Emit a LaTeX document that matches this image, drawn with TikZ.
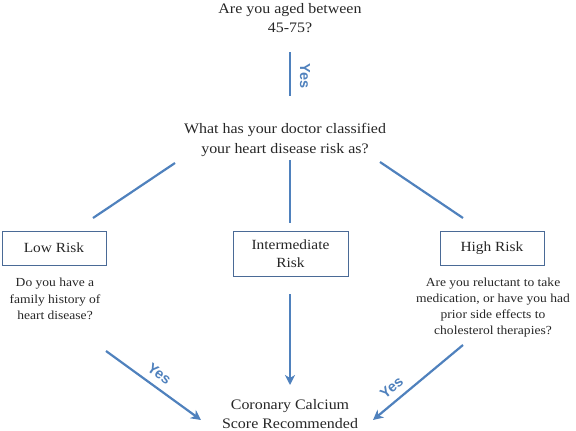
\documentclass[tikz,border=0pt]{standalone}
\usepackage{fontspec}
\setmainfont{Liberation Serif}[FakeStretch=1.1]
\newfontfamily\yesfont{Liberation Sans}
\usetikzlibrary{arrows.meta}
\definecolor{arrowblue}{HTML}{4F81BD}
\definecolor{boxblue}{HTML}{4A6A96}
\definecolor{txt}{HTML}{262626}
\tikzset{
  flow/.style={draw=arrowblue, line width=2.2pt},
  flowarrow/.style={flow, -{Stealth[length=10pt,width=10pt,inset=3pt]}},
  riskbox/.style={draw=boxblue, line width=0.9pt, align=center, inner sep=0pt, font=\fontsize{14}{18}\selectfont, text=txt},
  qtext/.style={align=center, font=\fontsize{14.5}{19.5}\selectfont, text=txt},
  smalltext/.style={align=center, font=\fontsize{12.3}{16.2}\selectfont, text=txt},
  yeslabel/.style={font=\yesfont\bfseries\fontsize{14.5}{16}\selectfont, text=arrowblue, inner sep=2pt}
}
\begin{document}
\begin{tikzpicture}[x=1pt,y=-1pt]
\useasboundingbox (0,0) rectangle (576,431);
% texts
\node[qtext] (q1) at (290,18) {Are you aged between\\45-75?};
\node[qtext] (q2) at (285,140) {What has your doctor classified\\your heart disease risk as?};
\node[riskbox, minimum width=104pt, minimum height=34pt] (low) at (54,248) {Low Risk};
\node[riskbox, minimum width=115pt, minimum height=45pt] (mid) at (290.5,253.5) {Intermediate\\Risk};
\node[riskbox, minimum width=104pt, minimum height=34pt] (high) at (492,248) {High Risk};
\node[smalltext] (lowq) at (55,299) {Do you have a\\family history of\\heart disease?};
\node[smalltext] (highq) at (493,307.5) {Are you reluctant to take\\medication, or have you had\\prior side effects to\\cholesterol therapies?};
\node[qtext] (res) at (290,414) {Coronary Calcium\\Score Recommended};
% connector end points
\coordinate (y1s) at (290,52);
\coordinate (y1e) at (290,96);
\coordinate (ls) at (175,163);
\coordinate (le) at (93,218);
\coordinate (ms) at (290,160);
\coordinate (me) at (290,223);
\coordinate (rs) at (380,162);
\coordinate (re) at (463,218);
\coordinate (a1s) at (106,351);
\coordinate (a1e) at (201,420);
\coordinate (a2s) at (290,294);
\coordinate (a2e) at (290,385);
\coordinate (a3s) at (463,345);
\coordinate (a3e) at (373,420);
% connectors
\draw[flow] (y1s) -- node[yeslabel, sloped, above=7pt, pos=0.55] (yes1) {Yes} (y1e);
\draw[flow] (ls) -- (le);
\draw[flow] (ms) -- (me);
\draw[flow] (rs) -- (re);
\draw[flowarrow] (a1s) -- node[yeslabel, sloped, above=5pt, pos=0.48] (yes2) {Yes} (a1e);
\draw[flowarrow] (a2s) -- (a2e);
\draw[flowarrow] (a3s) -- node[yeslabel, sloped, above=5pt, pos=0.7] (yes3) {Yes} (a3e);
\end{tikzpicture}
\end{document}
